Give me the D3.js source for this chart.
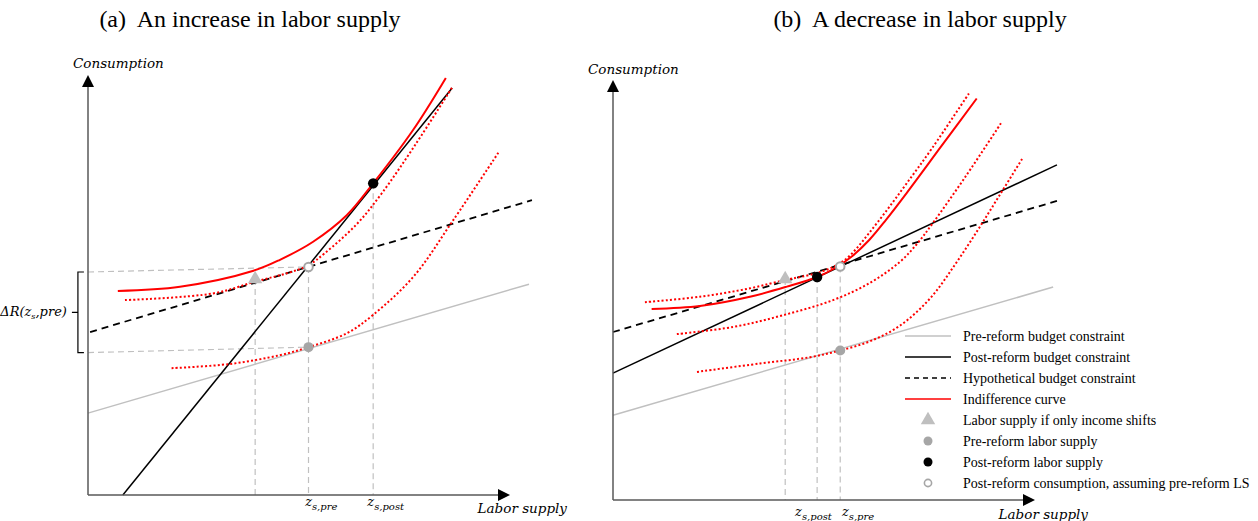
<!DOCTYPE html>
<meta charset="utf-8">
<script src="https://d3js.org/d3.v7.min.js"></script>
<style>
  body { margin: 0; background: #fff; }
  text { fill: #000; }
  .title { font-family: "Liberation Serif", serif; font-size: 24px; white-space: pre; }
  .axlab { font-family: "DejaVu Serif", serif; font-style: italic; font-size: 13.5px; }
  .zlab { font-family: "DejaVu Serif", serif; font-style: italic; font-size: 13px; }
  .leg { font-family: "Liberation Serif", serif; font-size: 14px; }
</style>
<svg id="chart" width="1258" height="521"></svg>
<script>

// ---- panel (a): an increase in labor supply (data units 0..100 on both axes)
var aPreBC  = [[0, 19.5], [105, 50.2]];
var aPostBC = [[8.3, 0], [86.7, 96.9]];
var aHypoBC = [[0.5, 38.8], [105.7, 70.2]];
var aIC     = [[7.1, 48.6], [21.9, 49.6], [39.4, 53.4], [45.7, 56.0], [53.6, 60.3], [61.6, 66.6], [67.9, 74.2], [77.4, 86.9], [85.2, 99.3]];
var aICdot1 = [[8.8, 46.4], [29.8, 48.0], [39.8, 50.8], [48, 53.0], [52.5, 54.7], [56.4, 57.6], [64, 64.5], [70, 71.9], [78, 83.5], [86.8, 97.2]];
var aICdot2 = [[19.9, 30.2], [33.8, 31.2], [45.7, 33.3], [52.5, 35.2], [61.6, 38.5], [67.9, 42.9], [77.5, 52.0], [87.0, 65.5], [97.7, 81.5]];
var aTriangle = [39.8, 51.4];
var aGrayDot  = [52.5, 35.2];
var aHollow   = [52.5, 54.3];
var aBlackDot = [67.9, 74.2];
var aGuides   = [[[0, 53.1], [52.5, 54.3]], [[0, 33.9], [52.5, 35.2]]];

// ---- panel (b): a decrease in labor supply
var bPreBC  = [[0, 20.2], [104.8, 50.7]];
var bPostBC = [[0, 30.2], [105.7, 79.8]];
var bHypoBC = [[0, 40.0], [105.7, 71.2]];
var bIC     = [[9.2, 45.5], [20.7, 46.2], [32.6, 48.4], [41.4, 50.8], [48.6, 53.1], [53, 55.3], [57, 58.1], [61, 61.9], [65, 66.7], [70, 73.2], [78, 84.0], [86.6, 95.6]];
var bICdot1 = [[7.6, 47.1], [20.7, 48.4], [32.6, 50.4], [41.0, 52.4], [46, 53.4], [50, 54.5], [53, 55.8], [55.5, 57.4], [58, 59.9], [61, 63.6], [65.2, 69.0], [70, 75.5], [76, 83.8], [85, 97.2]];
var bICdot2 = [[15.2, 39.5], [28.6, 41.2], [40.5, 44.0], [52.4, 47.6], [61.2, 51.7], [68.3, 56.7], [72.4, 61.0], [76.2, 66.0], [84.0, 77.1], [92.5, 89.9]];
var bICdot3 = [[20.0, 30.5], [35.0, 32.5], [46.9, 34.0], [54.1, 35.6], [61.2, 37.8], [68.3, 41.5], [75.5, 48.0], [81.4, 56.0], [87.0, 64.5], [92.0, 72.5], [97.4, 81.2]];
var bTriangle = [41.0, 52.6];
var bGrayDot  = [54.1, 35.6];
var bHollow   = [54.1, 55.6];
var bBlackDot = [48.6, 53.1];

var titles = ["(a)  An increase in labor supply", "(b)  A decrease in labor supply"];
var legendLabels = ["Pre-reform budget constraint", "Post-reform budget constraint", "Hypothetical budget constraint",
  "Indifference curve", "Labor supply if only income shifts", "Pre-reform labor supply",
  "Post-reform labor supply", "Post-reform consumption, assuming pre-reform LS"];

var svg = d3.select("#chart");
var RED = "#ff0000", GRAY = "#c0c0c0", DOTGRAY = "#a6a6a6";

function drawPanel(left, bottom) {
  var x = d3.scaleLinear().domain([0, 100]).range([left, left + 420]);
  var y = d3.scaleLinear().domain([0, 100]).range([bottom, bottom - 420]);
  var g = svg.append("g");
  var line = d3.line().x(function(d) { return x(d[0]); }).y(function(d) { return y(d[1]); });
  var curve = d3.line().x(function(d) { return x(d[0]); }).y(function(d) { return y(d[1]); })
    .curve(d3.curveCatmullRom.alpha(0.5));
  return { x: x, y: y, g: g, line: line, curve: curve };
}

function axes(p) {
  var x0 = p.x(0), y0 = p.y(0), xt = p.x(100) + 2, yt = p.y(100);
  p.g.append("line").attr("x1", x0).attr("y1", y0).attr("x2", x0).attr("y2", yt + 10)
    .attr("stroke", "#595959").attr("stroke-width", 1.5);
  p.g.append("line").attr("x1", x0).attr("y1", y0).attr("x2", xt - 10).attr("y2", y0)
    .attr("stroke", "#595959").attr("stroke-width", 1.5);
  p.g.append("path").attr("d", "M" + x0 + "," + yt + "l-6,12h12z").attr("fill", "#000");
  p.g.append("path").attr("d", "M" + xt + "," + y0 + "l-12,-6v12z").attr("fill", "#000");
}

function guideV(p, pt) {
  p.g.append("path").attr("d", p.line([pt, [pt[0], 0]]))
    .attr("stroke", GRAY).attr("stroke-width", 1.2).attr("stroke-dasharray", "6,4").attr("fill", "none");
}

function bcLines(p, pre, post, hypo) {
  p.g.append("path").attr("d", p.line(pre)).attr("stroke", GRAY).attr("stroke-width", 1.5).attr("fill", "none");
  p.g.append("path").attr("d", p.line(post)).attr("stroke", "#000").attr("stroke-width", 1.5).attr("fill", "none");
  p.g.append("path").attr("d", p.line(hypo)).attr("stroke", "#000").attr("stroke-width", 1.8)
    .attr("stroke-dasharray", "7,5").attr("fill", "none");
}

function icCurve(p, data, dotted) {
  p.g.append("path").attr("d", p.curve(data)).attr("stroke", RED).attr("fill", "none")
    .attr("stroke-width", 2).attr("stroke-dasharray", dotted ? "2,2.2" : null);
}

function markers(p, tri, gray, hollow, black) {
  p.g.append("path").attr("d", d3.symbol().type(d3.symbolTriangle).size(90)())
    .attr("transform", "translate(" + p.x(tri[0]) + "," + p.y(tri[1]) + ")").attr("fill", "#bfbfbf");
  p.g.append("circle").attr("cx", p.x(gray[0])).attr("cy", p.y(gray[1])).attr("r", 5).attr("fill", DOTGRAY);
  p.g.append("circle").attr("cx", p.x(hollow[0])).attr("cy", p.y(hollow[1])).attr("r", 4.3)
    .attr("fill", "#fff").attr("stroke", DOTGRAY).attr("stroke-width", 2);
  p.g.append("circle").attr("cx", p.x(black[0])).attr("cy", p.y(black[1])).attr("r", 5.2).attr("fill", "#000");
}

function zLabel(p, u, sub, baseline, anchor) {
  var t = p.g.append("text").attr("class", "zlab").attr("x", p.x(u)).attr("y", baseline)
    .attr("text-anchor", anchor || "start");
  t.append("tspan").text("z");
  t.append("tspan").attr("dy", 4).attr("font-size", 10).text(sub);
}

// ---- panel (a)
var pa = drawPanel(88, 495);
[aTriangle, aHollow, aBlackDot].forEach(function(pt) { guideV(pa, pt); });
aGuides.forEach(function(gd) {
  pa.g.append("path").attr("d", pa.line(gd)).attr("stroke", GRAY).attr("stroke-width", 1.2)
    .attr("stroke-dasharray", "6,4").attr("fill", "none");
});
bcLines(pa, aPreBC, aPostBC, aHypoBC);
icCurve(pa, aICdot1, true);
icCurve(pa, aICdot2, true);
icCurve(pa, aIC, false);
axes(pa);
markers(pa, aTriangle, aGrayDot, aHollow, aBlackDot);

// bracket for Delta R
var bx = pa.x(-2.4), bTop = pa.y(aGuides[0][0][1]), bBot = pa.y(aGuides[1][0][1]);
pa.g.append("path")
  .attr("d", "M" + (bx + 6) + "," + bTop + "H" + bx + "V" + bBot + "H" + (bx + 6) +
    "M" + bx + "," + ((bTop + bBot) / 2) + "h-6")
  .attr("stroke", "#000").attr("stroke-width", 1.2).attr("fill", "none");
var dr = pa.g.append("text").attr("class", "zlab").attr("font-size", 11).attr("text-anchor", "end")
  .attr("x", bx - 11).attr("y", (bTop + bBot) / 2 + 4);
dr.append("tspan").text("ΔR(z");
dr.append("tspan").attr("dy", 3).attr("font-size", 8).text("s");
dr.append("tspan").attr("dy", -3).text(",pre)");

zLabel(pa, aHollow[0] - 0.8, "s,pre", 506);
zLabel(pa, aBlackDot[0] - 1.4, "s,post", 506);
pa.g.append("text").attr("class", "axlab").attr("x", 73).attr("y", 68).text("Consumption");
pa.g.append("text").attr("class", "axlab").attr("x", 567).attr("y", 513).attr("text-anchor", "end").text("Labor supply");

// ---- panel (b)
var pb = drawPanel(613, 500);
[bTriangle, bBlackDot, bHollow].forEach(function(pt) { guideV(pb, pt); });
bcLines(pb, bPreBC, bPostBC, bHypoBC);
icCurve(pb, bICdot1, true);
icCurve(pb, bICdot2, true);
icCurve(pb, bICdot3, true);
icCurve(pb, bIC, false);
axes(pb);
markers(pb, bTriangle, bGrayDot, bHollow, bBlackDot);
zLabel(pb, bBlackDot[0] + 3.5, "s,post", 516, "end");
zLabel(pb, bHollow[0] + 0.4, "s,pre", 516);
pb.g.append("text").attr("class", "axlab").attr("x", 588).attr("y", 74).text("Consumption");
pb.g.append("text").attr("class", "axlab").attr("x", 1088).attr("y", 519).attr("text-anchor", "end").text("Labor supply");

// ---- titles
svg.selectAll("text.title").data(titles).enter().append("text").attr("class", "title")
  .attr("x", function(d, i) { return i === 0 ? 250 : 920; }).attr("y", 27)
  .attr("text-anchor", "middle").text(function(d) { return d; });

// ---- legend
var legY = d3.scaleLinear().domain([0, 7]).range([336, 483]);
var leg = svg.append("g");
legendLabels.forEach(function(lab, i) {
  var yy = legY(i);
  if (i < 4) {
    leg.append("line").attr("x1", 905).attr("x2", 951).attr("y1", yy).attr("y2", yy)
      .attr("stroke", [GRAY, "#000", "#000", RED][i]).attr("stroke-width", i === 0 ? 1.5 : 1.6)
      .attr("stroke-dasharray", i === 2 ? "5,4" : null);
  } else if (i === 4) {
    leg.append("path").attr("d", d3.symbol().type(d3.symbolTriangle).size(90)())
      .attr("transform", "translate(928," + yy + ")").attr("fill", "#bfbfbf");
  } else if (i === 5) {
    leg.append("circle").attr("cx", 928).attr("cy", yy).attr("r", 4.5).attr("fill", DOTGRAY);
  } else if (i === 6) {
    leg.append("circle").attr("cx", 928).attr("cy", yy).attr("r", 4.5).attr("fill", "#000");
  } else {
    leg.append("circle").attr("cx", 928).attr("cy", yy).attr("r", 3.6).attr("fill", "#fff")
      .attr("stroke", DOTGRAY).attr("stroke-width", 1.6);
  }
  leg.append("text").attr("class", "leg").attr("x", 963).attr("y", yy + 4.5).text(lab);
});
</script>
